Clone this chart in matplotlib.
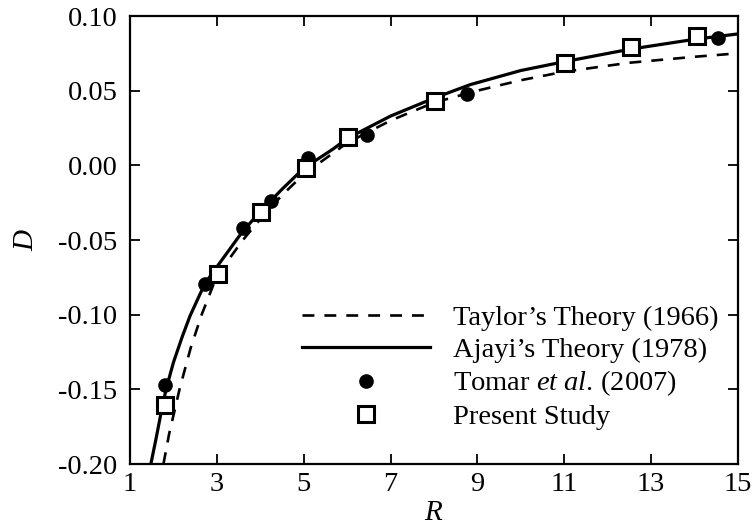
import matplotlib
matplotlib.use("Agg")
import matplotlib.pyplot as plt

plt.rcParams['font.family'] = ['Liberation Serif', 'DejaVu Serif']
plt.rcParams['mathtext.fontset'] = 'custom'
plt.rcParams['mathtext.rm'] = 'Liberation Serif'
plt.rcParams['mathtext.it'] = 'Liberation Serif:italic'

# Taylor's theory (1966) - dashed
taylor_R = [1.77, 1.9, 2.14, 2.4, 2.65, 2.96, 3.3, 3.6, 4.0, 4.5, 5.0, 6.0, 7.0, 8.0, 9.0, 10.0, 11.0, 12.5, 14.0, 15.0]
taylor_D = [-0.200, -0.180, -0.150, -0.122, -0.100, -0.077, -0.062, -0.050, -0.036, -0.020, -0.006, 0.015, 0.030, 0.042, 0.050, 0.057, 0.0627, 0.0687, 0.0727, 0.075]

# Ajayi's theory (1978) - solid
ajayi_R = [1.48, 1.6, 1.7, 1.83, 2.0, 2.2, 2.38, 2.6, 2.73, 3.0, 3.3, 3.6, 4.0, 4.5, 5.0, 5.68, 6.0, 7.0, 8.0, 8.83, 10.0, 11.0, 12.5, 14.0, 15.0]
ajayi_D = [-0.200, -0.183, -0.168, -0.150, -0.132, -0.115, -0.101, -0.087, -0.079, -0.068, -0.056, -0.044, -0.031, -0.016, -0.002, 0.011, 0.018, 0.033, 0.045, 0.054, 0.0635, 0.0694, 0.0777, 0.0844, 0.088]

# Tomar et al. (2007)
tomar_R = [1.81, 2.73, 3.6, 4.25, 5.1, 6.45, 8.75, 14.53]
tomar_D = [-0.147, -0.0795, -0.042, -0.024, 0.005, 0.020, 0.0476, 0.085]

# Present study
present_R = [1.81, 3.03, 4.02, 5.05, 6.03, 8.02, 11.02, 12.54, 14.05]
present_D = [-0.1606, -0.073, -0.0315, -0.002, 0.019, 0.043, 0.0687, 0.079, 0.0866]

x_ticks = [1, 3, 5, 7, 9, 11, 13, 15]
y_ticks = [-0.20, -0.15, -0.10, -0.05, 0.00, 0.05, 0.10]

fig = plt.figure(figsize=(7.53, 5.30), dpi=100)
ax = fig.add_axes([130/753, 1-464/530, (738-130)/753, (464-16)/530])

ax.plot(taylor_R, taylor_D, color='black', lw=1.9, ls=(0, (4.5, 3.8)), label='Taylor’s Theory (1966)')
ax.plot(ajayi_R, ajayi_D, color='black', lw=2.3, ls='-', label='Ajayi’s Theory (1978)')
ax.plot(tomar_R, tomar_D, 'o', color='black', ms=9.5, label=r'Tomar $\mathit{et\ al.}\,$(2007)')
ax.plot(present_R, present_D, 's', mfc='white', mec='black', mew=2.2, ms=11, label='Present Study')

ax.set_xlim(1, 15)
ax.set_ylim(-0.20, 0.10)
ax.set_xticks(x_ticks)
ax.set_yticks(y_ticks)
ax.set_xticklabels([str(v) for v in x_ticks])
ax.set_yticklabels(['%.2f' % v for v in y_ticks])

ax.tick_params(direction='in', length=7, width=1.3, top=True, right=True,
               labelsize=20.5, pad=6)
ax.tick_params(axis='y', pad=9)
for s in ax.spines.values():
    s.set_linewidth(1.6)

ax.set_xlabel('$R$', fontsize=21, labelpad=2)
ax.set_ylabel('$D$', fontsize=21, labelpad=14)

leg = ax.legend(loc='lower right', bbox_to_anchor=(0.968, 0.075), frameon=False,
                fontsize=20.5, handlelength=4.5, handletextpad=0.8,
                labelspacing=0.21, borderaxespad=0.0, borderpad=0.0)

fig.savefig('out.png', dpi=100)
